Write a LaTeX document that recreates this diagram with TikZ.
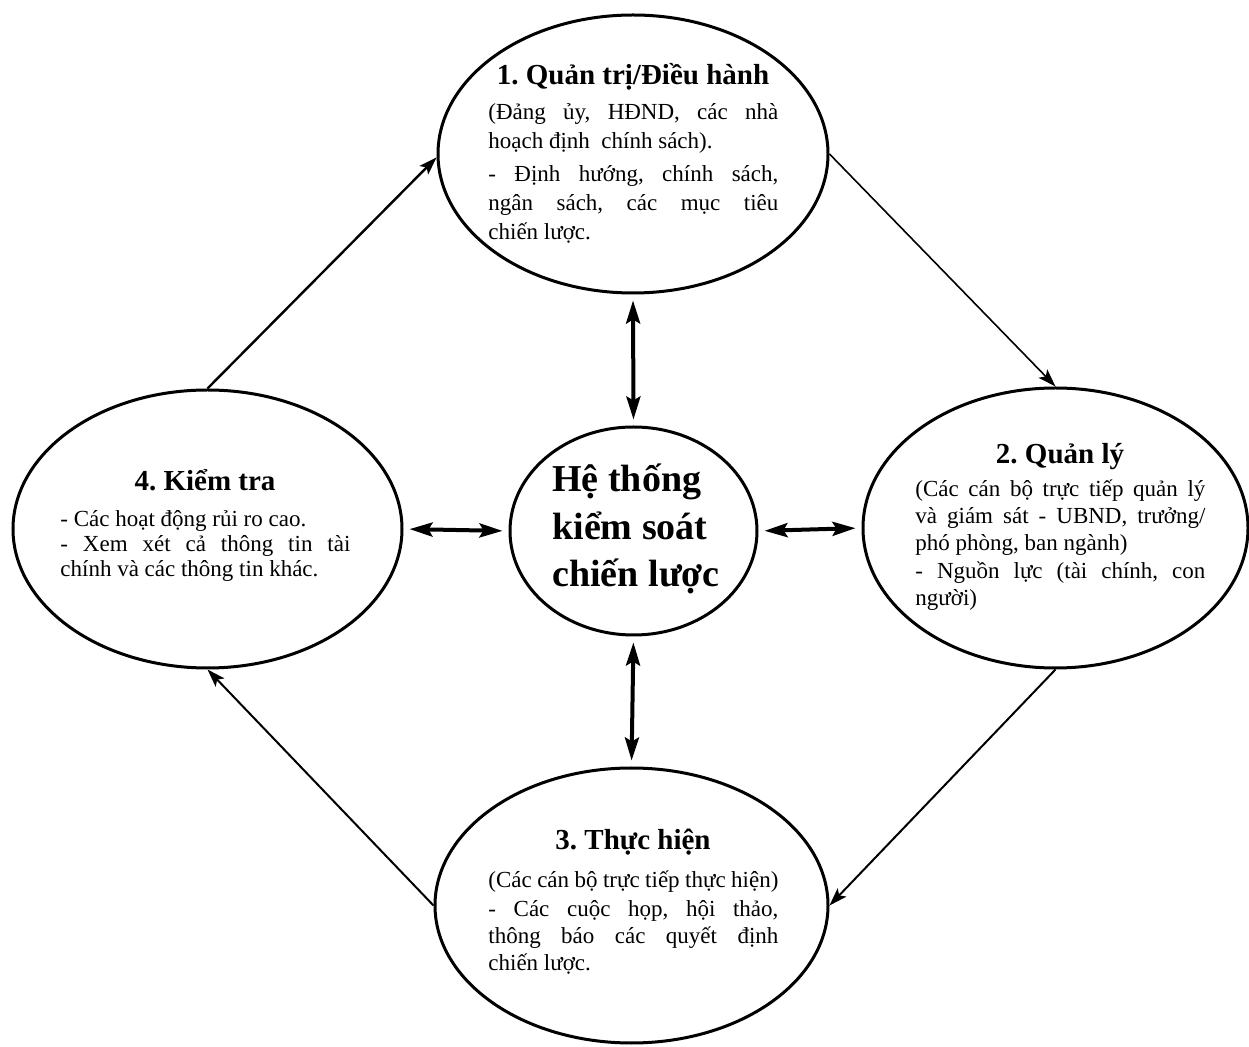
\documentclass[tikz,border=0pt]{standalone}
\usepackage{fontspec}
\setmainfont{Liberation Serif}
\usetikzlibrary{shapes.geometric,arrows.meta}
\frenchspacing
\begin{document}
\frenchspacing
\begin{tikzpicture}[x=0.5pt,y=-0.5pt,
  oval/.style={draw, line width=1.5pt, ellipse, inner sep=0pt},
  ttl/.style={inner sep=0pt, anchor=base, font=\fontsize{14.5}{17}\selectfont\bfseries},
  body/.style={inner sep=0pt, anchor=base west, text width=145pt, align=justify},
  flow/.style={-{Stealth[length=9pt,width=6pt,inset=2pt]}},
  dbl/.style={line width=2pt, {Stealth[length=11.5pt,width=7pt,inset=2pt]}-{Stealth[length=11.5pt,width=7pt,inset=2pt]}, shorten <=3pt, shorten >=3pt}
]
\useasboundingbox (0,0) rectangle (1249,1047);

% ellipses
\node[oval, minimum width=195pt, minimum height=139pt] (gov) at (633,154) {};
\node[oval, minimum width=192.5pt, minimum height=140pt] (mgr) at (1055.5,528) {};
\node[oval, minimum width=194.5pt, minimum height=139pt] (chk) at (207.5,529) {};
\node[oval, minimum width=196.5pt, minimum height=137.5pt] (imp) at (631.5,905.5) {};
\node[oval, minimum width=123.5pt, minimum height=104pt] (ctr) at (633.5,531) {};

% texts: top
\node[ttl] (govt) at (633,85) {1. Quản trị/Điều hành};
\node[body, font=\fontsize{11.5}{14.5}\selectfont] (govb) at (488,120)
  {(Đảng ủy, HĐND, các nhà\linebreak hoạch định\ \ chính sách).\par\vspace{2pt}- Định hướng, chính sách,\linebreak ngân sách, các mục tiêu\linebreak chiến lược.};

% right
\node[ttl] (mgrt) at (1060,464) {2. Quản lý};
\node[body, font=\fontsize{11.5}{13.5}\selectfont] (mgrb) at (915,497)
  {(Các cán bộ trực tiếp quản lý\linebreak và giám sát - UBND, trưởng/\linebreak phó phòng, ban ngành)\par\vspace{0.5pt}- Nguồn lực (tài chính, con\linebreak người)};

% left
\node[ttl] (chkt) at (205,491) {4. Kiểm tra};
\node[body, font=\fontsize{11.5}{12.5}\selectfont] (chkb) at (60,527)
  {- Các hoạt động rủi ro cao.\par - Xem xét cả thông tin tài\linebreak chính và các thông tin khác.};

% bottom
\node[ttl] (impt) at (633,850) {3. Thực hiện};
\node[body, font=\fontsize{11.5}{13.5}\selectfont] (impb) at (488,888)
  {(Các cán bộ trực tiếp thực hiện)\par\vspace{1pt}- Các cuộc họp, hội thảo,\linebreak thông báo các quyết định\linebreak chiến lược.};

% centre
\node[inner sep=0pt, anchor=base west, align=left, font=\fontsize{19}{23.75}\selectfont\bfseries] (ctrt) at (552,587)
  {Hệ thống\\kiểm soát\\chiến lược};

% cycle arrows
\draw[flow, line width=1.2pt] (chk.north) -- (gov.181);
\draw[flow, line width=0.8pt] (gov.east) -- (mgr.north);
\draw[flow, line width=1pt] (mgr.south) -- (imp.east);
\draw[flow, line width=1pt] (imp.west) -- (chk.south);

% double arrows
\draw[dbl] (gov.south) -- (ctr.north);
\draw[dbl] (ctr.south) -- (imp.north);
\draw[dbl] (chk.east) -- (ctr.west);
\draw[dbl] (ctr.east) -- (mgr.west);
\end{tikzpicture}
\end{document}
